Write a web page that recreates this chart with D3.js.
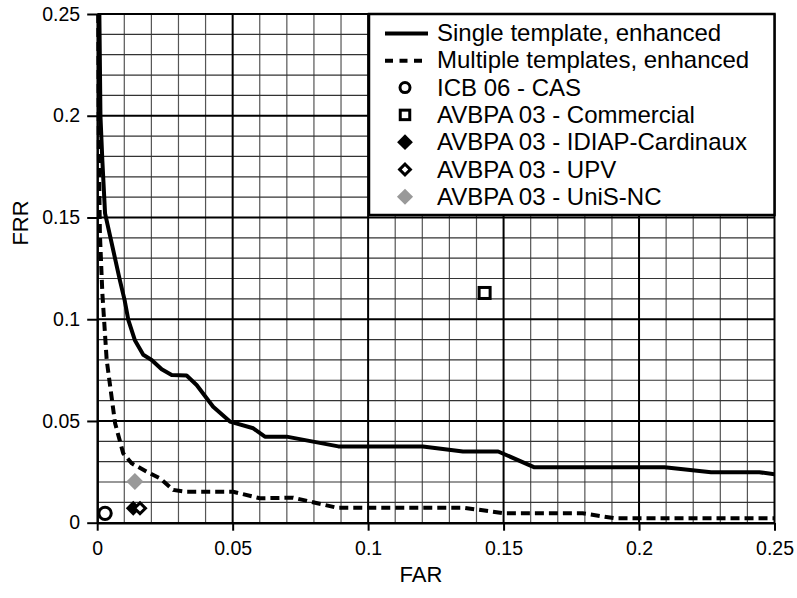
<!DOCTYPE html>
<html><head><meta charset="utf-8">
<script src="https://cdn.jsdelivr.net/npm/d3@7"></script>
<style>body{margin:0;background:#fff}svg{display:block}</style>
</head><body>
<svg id="c" width="797" height="598"></svg>
<script>
// ---- data ----
const xTicks = [0, 0.05, 0.1, 0.15, 0.2, 0.25];
const yTicks = [0, 0.05, 0.1, 0.15, 0.2, 0.25];
const singleFAR = [0.0008,0.0012,0.0019,0.0029,0.0059,0.0084,0.0101,0.0115,0.0139,0.0170,0.0201,0.0238,0.0275,0.0330,0.0367,0.0428,0.0490,0.0576,0.0619,0.0699,0.0890,0.1202,0.1350,0.1480,0.1614,0.2094,0.2266,0.2444,0.2500];
const singleFRR = [0.2500,0.2000,0.1780,0.1520,0.1340,0.1190,0.1095,0.0996,0.0897,0.0825,0.0800,0.0754,0.0726,0.0723,0.0677,0.0570,0.0497,0.0464,0.0423,0.0423,0.0375,0.0375,0.0350,0.0350,0.0272,0.0272,0.0248,0.0248,0.0238];
const multiFAR = [0.0004,0.0006,0.0010,0.0019,0.0035,0.0066,0.0096,0.0127,0.0183,0.0232,0.0281,0.0330,0.0502,0.0600,0.0723,0.0883,0.1350,0.1504,0.1792,0.1909,0.2500];
const multiFRR = [0.2500,0.1830,0.1420,0.1128,0.0800,0.0489,0.0341,0.0292,0.0251,0.0218,0.0161,0.0152,0.0152,0.0120,0.0123,0.0074,0.0074,0.0046,0.0046,0.0022,0.0022];
const systemNames = ["ICB 06 - CAS","AVBPA 03 - Commercial","AVBPA 03 - IDIAP-Cardinaux","AVBPA 03 - UPV","AVBPA 03 - UniS-NC"];
const systemFAR = [0.0029, 0.1430, 0.0133, 0.0158, 0.0139];
const systemFRR = [0.0046, 0.1129, 0.0071, 0.0071, 0.0202];
const lineNames = ["Single template, enhanced","Multiple templates, enhanced"];

// ---- layout ----
const svg = d3.select("#c");
const L = 97.2, R = 774.5, T = 14, B = 522.7;
const x = d3.scaleLinear().domain([0,0.25]).range([L,R]);
const y = d3.scaleLinear().domain([0,0.25]).range([B,T]);
const font = "'Liberation Sans', Arial, Helvetica, sans-serif";

// grid
const g = svg.append("g");
const minor = d3.range(0,26).map(i=>i/100).filter(v=>Math.round(v*100)%5!==0);
const major = d3.range(1,6).map(i=>i*0.05);
g.selectAll("line.mx").data(minor).join("line")
  .attr("x1",d=>x(d)).attr("x2",d=>x(d)).attr("y1",T).attr("y2",B)
  .attr("stroke","#555").attr("stroke-width",1.2);
g.selectAll("line.my").data(minor).join("line")
  .attr("y1",d=>y(d)).attr("y2",d=>y(d)).attr("x1",L).attr("x2",R)
  .attr("stroke","#333").attr("stroke-width",1.2);
g.selectAll("line.Mx").data(major).join("line")
  .attr("x1",d=>x(d)).attr("x2",d=>x(d)).attr("y1",T).attr("y2",B)
  .attr("stroke","#000").attr("stroke-width",2);
g.selectAll("line.My").data(major).join("line")
  .attr("y1",d=>y(d)).attr("y2",d=>y(d)).attr("x1",L).attr("x2",R)
  .attr("stroke","#000").attr("stroke-width",2);

// axes
const fmt = d => d===0 ? "0" : String(+d.toFixed(2));
const xa = svg.append("g").attr("transform",`translate(0,${B})`)
  .call(d3.axisBottom(x).tickValues(xTicks).tickFormat(fmt).tickSize(8).tickSizeOuter(0).tickPadding(10.5));
const ya = svg.append("g").attr("transform",`translate(${L},0)`)
  .call(d3.axisLeft(y).tickValues(yTicks).tickFormat(fmt).tickSize(10).tickSizeOuter(0).tickPadding(7));
[xa,ya].forEach(a=>{
  a.select(".domain").attr("stroke","#000").attr("stroke-width",2.5);
  a.selectAll(".tick line").attr("stroke","#000").attr("stroke-width",2);
  a.selectAll(".tick text").attr("fill","#000").style("font-family",font).style("font-size","19.5px");
});

svg.append("text").attr("x",421).attr("y",582).attr("text-anchor","middle")
  .style("font-family",font).style("font-size","22px").text("FAR");
svg.append("text").attr("transform",`translate(28,223) rotate(-90)`).attr("text-anchor","middle")
  .style("font-family",font).style("font-size","22px").text("FRR");

// lines
const line = d3.line().x(d=>x(d[0])).y(d=>y(d[1]));
svg.append("path").datum(multiFAR.map((v,i)=>[v,multiFRR[i]]))
  .attr("d",line).attr("fill","none").attr("stroke","#000").attr("stroke-width",4)
  .attr("stroke-dasharray","9,5");
svg.append("path").datum(singleFAR.map((v,i)=>[v,singleFRR[i]]))
  .attr("d",line).attr("fill","none").attr("stroke","#000").attr("stroke-width",4)
  .attr("stroke-linejoin","round");

// markers
function marker(sel, k, big){
  if(k===0){
    sel.append("circle").attr("r",(big?6.2:5)).attr("fill","#fff").attr("stroke","#000").attr("stroke-width",3);
  } else if(k===1){
    const a = big?11:9.5;
    sel.append("rect").attr("x",-a/2).attr("y",-a/2).attr("width",a).attr("height",a)
      .attr("fill","#fff").attr("stroke","#000").attr("stroke-width",3);
  } else if(k===2){
    sel.append("path").attr("d",d3.symbol(d3.symbolSquare, big?110:125)()).attr("transform","rotate(45)").attr("fill","#000");
  } else if(k===3){
    sel.append("path").attr("d",d3.symbol(d3.symbolSquare, big?60:58)()).attr("transform","rotate(45)")
      .attr("fill","#fff").attr("stroke","#000").attr("stroke-width",3);
  } else {
    sel.append("path").attr("d",d3.symbol(d3.symbolSquare, big?145:130)()).attr("transform","rotate(45)").attr("fill","#999");
  }
}
systemFAR.forEach((v,i)=>{
  const m = svg.append("g").attr("transform",`translate(${x(v)},${y(systemFRR[i])})`);
  marker(m,i,true);
});

// legend
const lg = svg.append("g");
lg.append("rect").attr("x",369).attr("y",T).attr("width",R-369).attr("height",215-T)
  .attr("fill","#fff").attr("stroke","#000").attr("stroke-width",2.5);
const rowY = i => 41 + i*27.3;
lineNames.forEach((n,i)=>{
  const yy = rowY(i) - 7.5;
  lg.append("line").attr("x1",385).attr("x2",428).attr("y1",yy).attr("y2",yy)
    .attr("stroke","#000").attr("stroke-width",4).attr("stroke-dasharray",i===1?"8,6.5":null);
  lg.append("text").attr("x",437).attr("y",rowY(i)).style("font-family",font).style("font-size","24px").text(n);
});
systemNames.forEach((n,i)=>{
  const m = lg.append("g").attr("transform",`translate(405,${rowY(i+2)-8})`);
  marker(m,i,false);
  lg.append("text").attr("x",437).attr("y",rowY(i+2)).style("font-family",font).style("font-size","24px").text(n);
});
</script>
</body></html>
